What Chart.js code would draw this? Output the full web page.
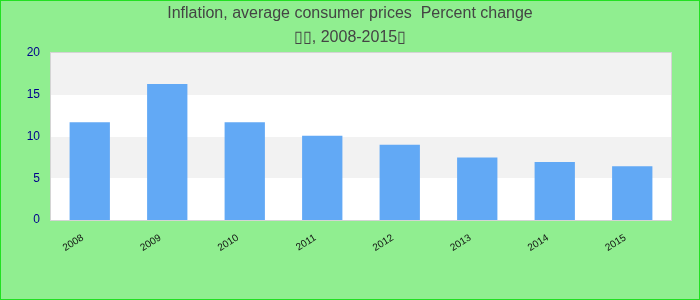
<!DOCTYPE html>
<html>
<head>
<meta charset="utf-8">
<script src="https://cdn.jsdelivr.net/npm/chart.js@4"></script>
<style>
  html, body { margin: 0; padding: 0; background: #90ee90; }
  #wrap { width: 700px; height: 300px; }
</style>
</head>
<body>
<div id="wrap"><canvas id="chart" width="700" height="300"></canvas></div>
<script>
// Inflation chart, 2008-2015
const years = ['2008', '2009', '2010', '2011', '2012', '2013', '2014', '2015'];
const inflation = [11.7, 16.3, 11.7, 10.1, 9.0, 7.5, 6.95, 6.45];
const yTicks = [0, 5, 10, 15, 20];
const titleLines = ['Inflation, average consumer prices  Percent change', '\u25AF\u25AF, 2008-2015\u25AF'];

const bandColors = ['#ffffff', '#f2f2f2'];

const background = {
  id: 'background',
  beforeDraw: function (chart) {
    var ctx = chart.ctx;
    ctx.save();
    ctx.fillStyle = '#90ee90';
    ctx.fillRect(0, 0, chart.width, chart.height);
    ctx.strokeStyle = '#22e022';
    ctx.lineWidth = 1;
    ctx.strokeRect(0.5, 0.5, chart.width - 1, chart.height - 1);
    ctx.restore();
  }
};

const bands = {
  id: 'bands',
  beforeDatasetsDraw: function (chart) {
    var ctx = chart.ctx;
    var area = chart.chartArea;
    var y = chart.scales.y;
    ctx.save();
    for (var i = 0; i < yTicks.length - 1; i++) {
      var top = Math.round(y.getPixelForValue(yTicks[i + 1]));
      var bottom = Math.round(y.getPixelForValue(yTicks[i]));
      ctx.fillStyle = bandColors[i % 2];
      ctx.fillRect(Math.round(area.left), top, Math.round(area.right - area.left), bottom - top);
    }
    ctx.strokeStyle = '#d4d4d4';
    ctx.lineWidth = 1;
    ctx.strokeRect(Math.round(area.left) - 0.5, Math.round(area.top) - 0.5,
      Math.round(area.right - area.left) + 1, Math.round(area.bottom - area.top) + 1);
    ctx.restore();
  }
};

new Chart(document.getElementById('chart'), {
  type: 'bar',
  data: {
    labels: years,
    datasets: [{
      label: 'Inflation',
      data: inflation,
      backgroundColor: '#62a9f5',
      borderWidth: 0,
      barPercentage: 0.52,
      categoryPercentage: 1
    }]
  },
  options: {
    responsive: false,
    animation: false,
    layout: { padding: 0 },
    plugins: {
      legend: { display: false },
      tooltip: { enabled: false },
      title: {
        display: true,
        text: titleLines,
        color: '#444444',
        font: { family: 'Liberation Sans, Arial, sans-serif', size: 16, weight: 'normal', lineHeight: 1.5 },
        padding: { top: 2, bottom: 3 }
      }
    },
    scales: {
      x: {
        grid: { display: false },
        border: { display: false },
        ticks: {
          color: '#111111',
          font: { family: 'Liberation Sans, Arial, sans-serif', size: 10 },
          minRotation: 32,
          maxRotation: 32,
          labelOffset: -7,
          padding: 4
        },
        afterFit: function (scale) { scale.height = 80; }
      },
      y: {
        min: 0,
        max: 20,
        grid: { display: false, drawTicks: false },
        border: { display: false },
        ticks: {
          stepSize: 5,
          color: '#00008b',
          font: { family: 'Liberation Sans, Arial, sans-serif', size: 12 },
          padding: 11
        },
        afterFit: function (scale) { scale.width = 51; }
      },
      // empty right axis only reserves the right margin
      yRight: {
        position: 'right',
        min: 0,
        max: 20,
        grid: { display: false, drawTicks: false },
        border: { display: false },
        ticks: { display: false },
        afterFit: function (scale) { scale.width = 29; }
      }
    }
  },
  plugins: [background, bands]
});
</script>
</body>
</html>
